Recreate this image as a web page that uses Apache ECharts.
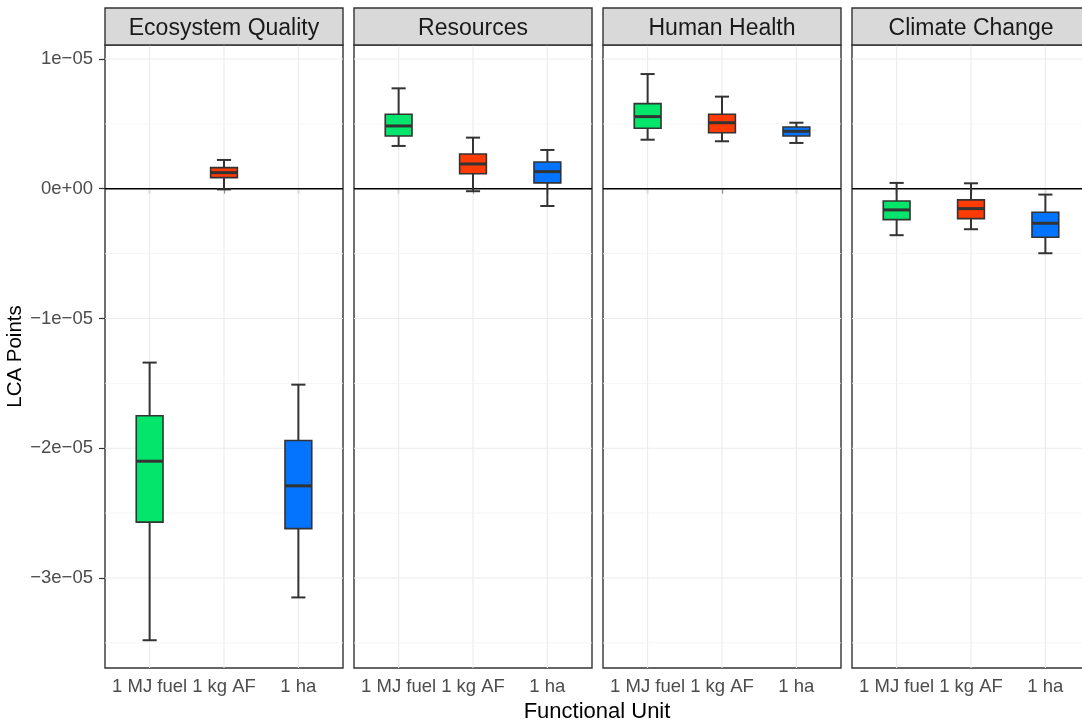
<!DOCTYPE html>
<html>
<head>
<meta charset="utf-8">
<title>LCA Points by Functional Unit</title>
<script src="https://cdn.jsdelivr.net/npm/echarts@6/dist/echarts.min.js"></script>
<style>
  html, body { margin: 0; padding: 0; background: #ffffff; }
  #chart { width: 1082px; height: 724px; }
</style>
</head>
<body>
<div id="chart"></div>
<script>
// ---- data ----
const facets = ['Ecosystem Quality', 'Resources', 'Human Health', 'Climate Change'];
const categories = ['1 MJ fuel', '1 kg AF', '1 ha'];

// each row: [lower whisker, Q1, median, Q3, upper whisker] for 1 MJ fuel, 1 kg AF, 1 ha
const ecosystemQuality = [
  [-3.48e-5, -2.57e-5, -2.10e-5, -1.75e-5, -1.34e-5],
  [-0.05e-6, 0.86e-6, 1.24e-6, 1.63e-6, 2.22e-6],
  [-3.15e-5, -2.62e-5, -2.29e-5, -1.94e-5, -1.51e-5]
];
const resources = [
  [3.30e-6, 4.07e-6, 4.84e-6, 5.74e-6, 7.74e-6],
  [-0.19e-6, 1.16e-6, 1.91e-6, 2.68e-6, 3.94e-6],
  [-1.33e-6, 0.45e-6, 1.32e-6, 2.06e-6, 2.99e-6]
];
const humanHealth = [
  [3.78e-6, 4.66e-6, 5.56e-6, 6.56e-6, 8.84e-6],
  [3.66e-6, 4.32e-6, 5.09e-6, 5.74e-6, 7.10e-6],
  [3.53e-6, 4.07e-6, 4.43e-6, 4.76e-6, 5.09e-6]
];
const climateChange = [
  [-3.58e-6, -2.38e-6, -1.63e-6, -0.94e-6, 0.45e-6],
  [-3.12e-6, -2.30e-6, -1.53e-6, -0.86e-6, 0.42e-6],
  [-4.97e-6, -3.74e-6, -2.66e-6, -1.81e-6, -0.45e-6]
];
const facetValues = [ecosystemQuality, resources, humanHealth, climateChange];

const yMajorTicks = [-3e-5, -2e-5, -1e-5, 0, 1e-5];
const yTickLabels = ['\u22123e\u221205', '\u22122e\u221205', '\u22121e\u221205', '0e+00', '1e\u221205'];
const yMinorTicks = [-3.5e-5, -2.5e-5, -1.5e-5, -0.5e-5, 0.5e-5];
const xPositions = [1, 2, 3];

// ---- styling / layout ----
const boxColors = ['#03E56B', '#FF3B05', '#0474FF'];
const Y_MIN = -3.694e-5, Y_MAX = 1.108e-5;
const X_MIN = 0.4, X_MAX = 3.6;
const BOX_WIDTH = 0.36, CAP_WIDTH = 0.19;
const PANEL_LEFT = [105, 354, 603, 852];
const PANEL_TOP = 45, PANEL_W = 238, PANEL_H = 623;
const STRIP_TOP = 8;
const DARK = '#333333';
const FONT = '"Liberation Sans", Arial, Helvetica, sans-serif';

function yLabel(v) {
  for (let i = 0; i < yMajorTicks.length; i++) {
    if (Math.abs(yMajorTicks[i] - v) < 1e-12) return yTickLabels[i];
  }
  return '';
}

// background grid lines and the zero reference line
// item: [x, y, kind]  kind 0 = major horizontal, 1 = minor horizontal, 2 = vertical, 3 = zero line
const gridLineData = [];
yMinorTicks.forEach(v => gridLineData.push([1, v, 1]));
yMajorTicks.forEach(v => gridLineData.push([1, v, 0]));
xPositions.forEach(v => gridLineData.push([v, 0, 2]));
gridLineData.push([1, 0, 3]);

function renderGridLine(params, api) {
  const cs = params.coordSys;
  const kind = api.value(2);
  const p = api.coord([api.value(0), api.value(1)]);
  if (kind === 2) {
    return { type: 'line', silent: true,
      shape: { x1: p[0], y1: cs.y, x2: p[0], y2: cs.y + cs.height },
      style: { stroke: '#ebebeb', lineWidth: 1.1 } };
  }
  const style = kind === 3 ? { stroke: '#000000', lineWidth: 1.7 }
    : kind === 0 ? { stroke: '#ebebeb', lineWidth: 1.1 }
    : { stroke: '#f2f2f2', lineWidth: 0.8 };
  return { type: 'line', silent: true, z2: kind === 3 ? 10 : (kind === 0 ? 5 : 1),
    shape: { x1: cs.x, y1: p[1], x2: cs.x + cs.width, y2: p[1] }, style: style };
}

function renderBox(params, api) {
  const x = api.value(0);
  const lo = api.coord([x, api.value(1)]);
  const q1 = api.coord([x, api.value(2)]);
  const med = api.coord([x, api.value(3)]);
  const q3 = api.coord([x, api.value(4)]);
  const hi = api.coord([x, api.value(5)]);
  const color = boxColors[api.value(6)];
  const bw = api.size([BOX_WIDTH, 0])[0];
  const cw = api.size([CAP_WIDTH, 0])[0];
  const cx = lo[0];
  return {
    type: 'group',
    children: [
      { type: 'line', shape: { x1: cx, y1: hi[1], x2: cx, y2: lo[1] }, style: { stroke: DARK, lineWidth: 2 } },
      { type: 'line', shape: { x1: cx - cw / 2, y1: hi[1], x2: cx + cw / 2, y2: hi[1] }, style: { stroke: DARK, lineWidth: 2 } },
      { type: 'line', shape: { x1: cx - cw / 2, y1: lo[1], x2: cx + cw / 2, y2: lo[1] }, style: { stroke: DARK, lineWidth: 2 } },
      { type: 'rect', shape: { x: cx - bw / 2, y: q3[1], width: bw, height: q1[1] - q3[1] },
        style: { fill: color, stroke: DARK, lineWidth: 1.6 } },
      { type: 'line', shape: { x1: cx - bw / 2, y1: med[1], x2: cx + bw / 2, y2: med[1] },
        style: { stroke: DARK, lineWidth: 3 } }
    ]
  };
}

const grids = [], xAxes = [], yAxes = [], series = [], graphics = [];

facets.forEach((name, i) => {
  grids.push({
    left: PANEL_LEFT[i], top: PANEL_TOP, width: PANEL_W, height: PANEL_H,
    outerBoundsMode: 'none', containLabel: false,
    show: true, backgroundColor: '#ffffff', borderColor: DARK, borderWidth: 1.4
  });
  xAxes.push({
    type: 'value', gridIndex: i, min: X_MIN, max: X_MAX,
    axisLine: { show: false },
    splitLine: { show: false },
    axisTick: { show: true, customValues: xPositions, length: 5, lineStyle: { color: DARK, width: 1.2 } },
    axisLabel: {
      show: true, customValues: xPositions, margin: 9,
      formatter: v => categories[Math.round(v) - 1] || '',
      color: '#4d4d4d', fontSize: 18.5, fontFamily: FONT
    }
  });
  yAxes.push({
    type: 'value', gridIndex: i, min: Y_MIN, max: Y_MAX,
    axisLine: { show: false },
    splitLine: { show: false },
    axisTick: { show: i === 0, customValues: yMajorTicks, length: 6, lineStyle: { color: DARK, width: 1.2 } },
    axisLabel: {
      show: i === 0, customValues: yMajorTicks, margin: 12,
      formatter: yLabel, color: '#4d4d4d', fontSize: 18.5, fontFamily: FONT
    },
    name: i === 0 ? 'LCA Points' : '',
    nameLocation: 'middle', nameRotate: 90, nameGap: 73,
    nameTextStyle: { color: '#000000', fontSize: 20.5, fontFamily: FONT }
  });
  series.push({
    type: 'custom', name: name + ' grid', xAxisIndex: i, yAxisIndex: i, z: 1, silent: true,
    renderItem: renderGridLine, data: gridLineData
  });
  series.push({
    type: 'custom', name: name, xAxisIndex: i, yAxisIndex: i, z: 3,
    renderItem: renderBox,
    data: facetValues[i].map((row, k) => [xPositions[k]].concat(row, [k]))
  });
  // facet strip
  graphics.push({
    type: 'rect', z: 10,
    shape: { x: PANEL_LEFT[i], y: STRIP_TOP, width: PANEL_W, height: PANEL_TOP - STRIP_TOP },
    style: { fill: '#d9d9d9', stroke: DARK, lineWidth: 1.4 }
  });
  graphics.push({
    type: 'text', z: 11,
    x: PANEL_LEFT[i] + PANEL_W / 2, y: (STRIP_TOP + PANEL_TOP) / 2 + 2,
    style: { text: name, fill: '#1a1a1a', font: '23px ' + FONT, align: 'center', verticalAlign: 'middle' }
  });
});

// shared x axis title
graphics.push({
  type: 'text', z: 11, x: 597, y: 712,
  style: { text: 'Functional Unit', fill: '#000000', font: '22px ' + FONT, align: 'center', verticalAlign: 'middle' }
});

const chart = echarts.init(document.getElementById('chart'), null, { renderer: 'canvas' });
chart.setOption({
  animation: false,
  backgroundColor: '#ffffff',
  grid: grids,
  xAxis: xAxes,
  yAxis: yAxes,
  series: series,
  graphic: graphics
});
</script>
</body>
</html>
